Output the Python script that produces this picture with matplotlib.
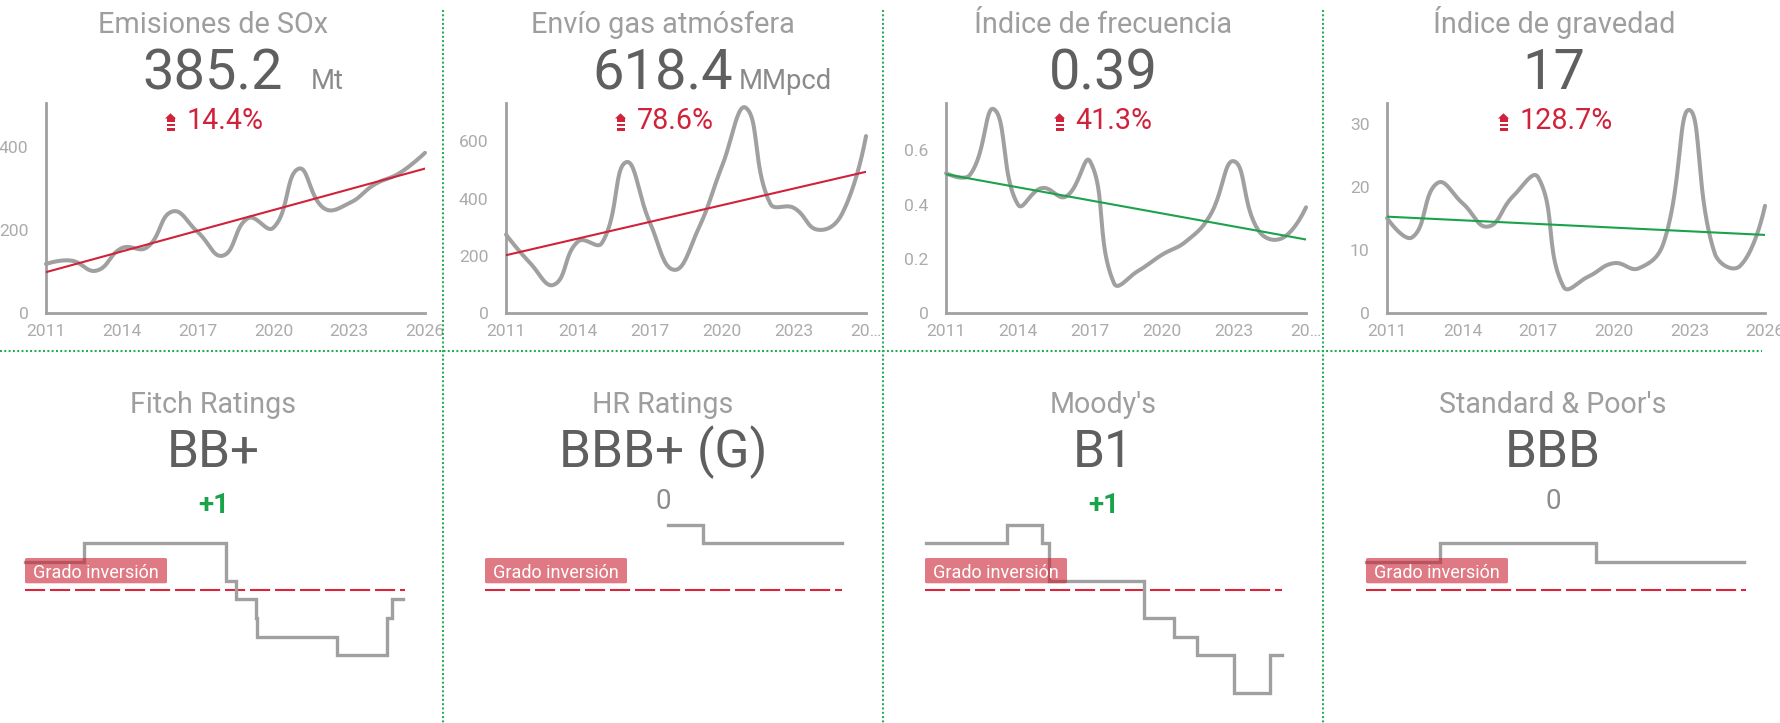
import numpy as np
import matplotlib
matplotlib.use("Agg")
import matplotlib.pyplot as plt
from matplotlib.patches import Polygon, Rectangle, FancyBboxPatch
from matplotlib.lines import Line2D
from matplotlib.transforms import Bbox, TransformedBbox
from datetime import date

plt.rcParams['font.family'] = ['Roboto', 'DejaVu Sans']
plt.rcParams['lines.scale_dashes'] = False

# ------------------------------------------------------------------ data
years = list(range(2011, 2027))
kpi_titles = ["Emisiones de SOx", "Envío gas atmósfera", "Índice de frecuencia", "Índice de gravedad"]
kpi_values = ["385.2", "618.4", "0.39", "17"]
kpi_units = ["Mt", "MMpcd", "", ""]
kpi_changes = ["14.4%", "78.6%", "41.3%", "128.7%"]
sox_emissions = [118, 126, 102, 156, 158, 244, 195, 138, 228, 205, 347, 252, 264, 309, 336.7, 385.2]
gas_to_atmosphere = [274, 175, 99, 250, 245, 527, 315, 151, 291, 513, 717, 384, 367, 291, 346.3, 618.4]
frequency_index = [0.516, 0.51, 0.752, 0.40, 0.461, 0.43, 0.56, 0.11, 0.155, 0.215, 0.264, 0.36, 0.56, 0.307, 0.276, 0.39]
severity_index = [15.05, 12.0, 20.6, 17.4, 13.7, 18.5, 21.5, 4.2, 5.8, 7.9, 7.1, 11.4, 32.2, 9.5, 7.43, 17]
kpi_series = [sox_emissions, gas_to_atmosphere, frequency_index, severity_index]
y_ticks = [[0, 200, 400], [0, 200, 400, 600], [0, 0.2, 0.4, 0.6], [0, 10, 20, 30]]
y_tick_labels = [["0", "200", "400"], ["0", "200", "400", "600"], ["0", "0.2", "0.4", "0.6"], ["0", "10", "20", "30"]]
x_ticks = [2011, 2014, 2017, 2020, 2023, 2026]
x_tick_labels = [["2011", "2014", "2017", "2020", "2023", "2026"],
                 ["2011", "2014", "2017", "2020", "2023", "20…"],
                 ["2011", "2014", "2017", "2020", "2023", "20…"],
                 ["2011", "2014", "2017", "2020", "2023", "2026"]]

agencies = ["Fitch Ratings", "HR Ratings", "Moody's", "Standard & Poor's"]
current_rating = ["BB+", "BBB+ (G)", "B1", "BBB"]
rating_change = ["+1", "0", "+1", "0"]
sp_scale = ["AAA", "AA+", "AA", "AA-", "A+", "A", "A-", "BBB+", "BBB", "BBB-",
            "BB+", "BB", "BB-", "B+", "B", "B-", "CCC"]
moodys_scale = ["Aaa", "Aa1", "Aa2", "Aa3", "A1", "A2", "A3", "Baa1", "Baa2", "Baa3",
                "Ba1", "Ba2", "Ba3", "B1", "B2", "B3", "Caa1"]
fitch_dates = ["2011-01-01", "2013-05-01", "2018-12-15", "2019-04-25", "2020-02-10",
               "2020-03-01", "2023-04-20", "2025-04-20", "2025-06-25", "2025-12-10"]
fitch_ratings = ["BBB", "BBB+", "BBB-", "BB+", "BB", "BB-", "B+", "BB", "BB+", "BB+"]
hr_dates = ["2018-09-10", "2020-03-01", "2026-01-01"]
hr_ratings = ["A-", "BBB+", "BBB+"]
moodys_dates = ["2011-01-20", "2014-06-20", "2015-12-01", "2016-03-20", "2020-03-15",
                "2021-06-20", "2022-06-10", "2024-01-01", "2025-07-01", "2026-01-01"]
moodys_ratings = ["Baa1", "A3", "Baa1", "Baa3", "Ba2", "Ba3", "B1", "B3", "B1", "B1"]
sp_dates = ["2011-01-01", "2013-12-01", "2020-01-25", "2025-12-05"]
sp_ratings = ["BBB", "BBB+", "BBB", "BBB"]
rating_dates = [fitch_dates, hr_dates, moodys_dates, sp_dates]
rating_values = [fitch_ratings, hr_ratings, moodys_ratings, sp_ratings]
rating_scales = [sp_scale, sp_scale, moodys_scale, sp_scale]
investment_grade_label = "Grado inversión"

# ------------------------------------------------------------------ style / layout
W, H = 1780, 723
GRAY = '#a0a0a0'
RED = '#d0223a'
GREEN = '#1aa34a'
SEP = '#22aa55'
TITLE_C = '#9e9e9e'
NUM_C = '#5f5f5f'
TICK_C = '#ababab'

fig = plt.figure(figsize=(W / 100, H / 100), dpi=100)


def fx(x):
    return x / W


def fy(y):
    return 1 - y / H


def ftext(x, y, s, **kw):
    return fig.text(fx(x), fy(y), s, **kw)


def dec_year(s):
    d = date.fromisoformat(s)
    return d.year + (d.timetuple().tm_yday - 1) / 365.0


def smooth_curve(xs, ys, sx, sy, t=0.45, n=24):
    px = np.asarray(xs, float) * sx
    py = np.asarray(ys, float) * sy
    N = len(px)
    cpn = np.zeros((N, 2))
    cpp = np.zeros((N, 2))
    for i in range(N):
        a = max(i - 1, 0)
        b = min(i + 1, N - 1)
        vx, vy = px[b] - px[a], py[b] - py[a]
        d0 = np.hypot(px[i] - px[a], py[i] - py[a])
        d1 = np.hypot(px[b] - px[i], py[b] - py[i])
        tot = d0 + d1
        r = d1 / tot if tot > 0 else 0.5
        cpn[i] = (px[i] + vx * t * r, py[i] + vy * t * r)
        cpp[i] = (px[i] - vx * t * (1 - r), py[i] - vy * t * (1 - r))
    cpn[0] = (px[0], py[0])
    cpp[-1] = (px[-1], py[-1])
    u = np.linspace(0, 1, n)[:, None]
    out = []
    for i in range(N - 1):
        P0 = np.array([px[i], py[i]])
        P3 = np.array([px[i + 1], py[i + 1]])
        P1 = cpn[i]
        P2 = cpp[i + 1]
        seg = ((1 - u) ** 3) * P0 + 3 * ((1 - u) ** 2) * u * P1 + 3 * (1 - u) * u ** 2 * P2 + u ** 3 * P3
        out.append(seg if i == 0 else seg[1:])
    out = np.vstack(out)
    return out[:, 0] / sx, out[:, 1] / sy


def up_icon(x0, y0, color):
    tri = Polygon([(fx(x0), fy(y0 + 5.2)), (fx(x0 + 5.5), fy(y0)), (fx(x0 + 11), fy(y0 + 5.2))],
                  closed=True, transform=fig.transFigure, fc=color, ec='none')
    fig.add_artist(tri)
    for (ya, yb) in [(y0 + 5.0, y0 + 9.0), (y0 + 10.5, y0 + 12.5), (y0 + 14.3, y0 + 17.5)]:
        fig.add_artist(Rectangle((fx(x0 + 2), fy(yb)), (8 / W), (yb - ya) / H,
                                 transform=fig.transFigure, fc=color, ec='none'))


# ------------------------------------------------------------------ separators
for xs in [443, 883, 1323]:
    fig.add_artist(Line2D([fx(xs), fx(xs)], [fy(10), fy(723)], transform=fig.transFigure,
                          color=SEP, lw=1.5, dashes=(1.4, 1.7)))
fig.add_artist(Line2D([fx(0), fx(1762)], [fy(351), fy(351)], transform=fig.transFigure,
                      color=SEP, lw=1.5, dashes=(1.4, 1.7)))

# ------------------------------------------------------------------ top row
top_x = [(46, 425), (506, 866), (946, 1306), (1387, 1765)]
top_y = (103, 313)
y_max = [505, 734, 0.775, 33.3]
centers_top = [213, 663, 1103, 1554]
unit_left = [312, 740, 0, 0]
pct_left = [188, 638, 1077, 1521]
clip_right = [443, 883, 1323, 1780]

for k in range(4):
    l, r = top_x[k]
    ax = fig.add_axes([fx(l), fy(top_y[1]), (r - l) / W, (top_y[1] - top_y[0]) / H])
    ax.set_xlim(2011, 2026)
    ax.set_ylim(0, y_max[k])
    for s in ['top', 'right']:
        ax.spines[s].set_visible(False)
    for s in ['left', 'bottom']:
        ax.spines[s].set_color(GRAY)
        ax.spines[s].set_linewidth(2.0)
    ax.set_xticks(x_ticks, x_tick_labels[k])
    ax.set_yticks(y_ticks[k], y_tick_labels[k])
    ax.tick_params(length=0, labelsize=12.6, labelcolor=TICK_C)
    ax.tick_params(axis='y', pad=12.5)
    ax.tick_params(axis='x', pad=8)
    ax.patch.set_alpha(0)
    sx = (r - l) / 15.0
    sy = (top_y[1] - top_y[0]) / y_max[k]
    cx, cy = smooth_curve(years, kpi_series[k], sx, sy)
    ax.plot(cx, cy, color=GRAY, lw=2.9, solid_capstyle='round', zorder=3, clip_on=False)
    slope, icpt = np.polyfit(years, kpi_series[k], 1)
    tcol = RED if slope > 0 else GREEN
    ax.plot([2011, 2026], [slope * 2011 + icpt, slope * 2026 + icpt], color=tcol, lw=1.5, zorder=4)
    # clip last x label at panel border
    lbl = ax.get_xticklabels()[-1]
    lbl.set_clip_box(TransformedBbox(Bbox.from_extents(0, 0, fx(clip_right[k]), 1), fig.transFigure))
    lbl.set_clip_on(True)

    ftext(centers_top[k], 33, kpi_titles[k], ha='center', va='baseline', fontsize=20.8, color=TITLE_C)
    ftext(centers_top[k], 89.3, kpi_values[k], ha='center', va='baseline', fontsize=40.3, color=NUM_C)
    if kpi_units[k]:
        ftext(unit_left[k] - 1, 89.3, kpi_units[k], ha='left', va='baseline', fontsize=19.8, color='#8a8a8a')
    ftext(pct_left[k] - 1.5, 129, kpi_changes[k], ha='left', va='baseline', fontsize=20.6, color=RED)
    up_icon(pct_left[k] - 23, 113.3, RED)

# ------------------------------------------------------------------ bottom row
bot_x = [(25, 405), (485, 842), (925, 1282), (1366, 1746)]
THR_Y = 590.0
NOTCH = 18.7
bot_y = (470, 710)
centers_bot = [213, 663, 1103, 1553]

for k in range(4):
    l, r = bot_x[k]
    ax = fig.add_axes([fx(l), fy(bot_y[1]), (r - l) / W, (bot_y[1] - bot_y[0]) / H])
    ax.set_xlim(2011, 2026)
    ax.set_ylim(-(bot_y[1] - THR_Y) / NOTCH, (THR_Y - bot_y[0]) / NOTCH)
    ax.axis('off')
    scale = rating_scales[k]
    xs = [dec_year(d) for d in rating_dates[k]]
    ys = [9.5 - scale.index(v) for v in rating_values[k]]
    ax.plot(xs, ys, drawstyle='steps-post', color=GRAY, lw=2.4, zorder=2,
            solid_joinstyle='miter', clip_on=False)
    ax.axhline(0, color='#d9263c', lw=1.5, dashes=(14.5, 3.5), zorder=1)

    box = FancyBboxPatch((fx(l), fy(583.3)), 142 / W, 25.3 / H,
                         boxstyle='round,pad=0,rounding_size=0.0015', transform=fig.transFigure,
                         fc='#cb2132', ec='none', alpha=0.6, zorder=5)
    fig.add_artist(box)
    ftext(l + 8, 578.3, investment_grade_label, ha='left', va='baseline', fontsize=13, color='white',
          zorder=6)

    ftext(centers_bot[k], 412.7, agencies[k], ha='center', va='baseline', fontsize=20.6, color=TITLE_C)
    ftext(centers_bot[k], 466.7, current_rating[k], ha='center', va='baseline', fontsize=37, color=NUM_C)
    if rating_change[k].startswith('+'):
        ftext(centers_bot[k] + 1, 512.7, rating_change[k], ha='center', va='baseline', fontsize=20,
              color=GREEN, fontweight='bold')
    else:
        ftext(centers_bot[k], 509, rating_change[k], ha='center', va='baseline', fontsize=20,
              color='#8c8c8c')

fig.savefig('out.png', dpi=100)
